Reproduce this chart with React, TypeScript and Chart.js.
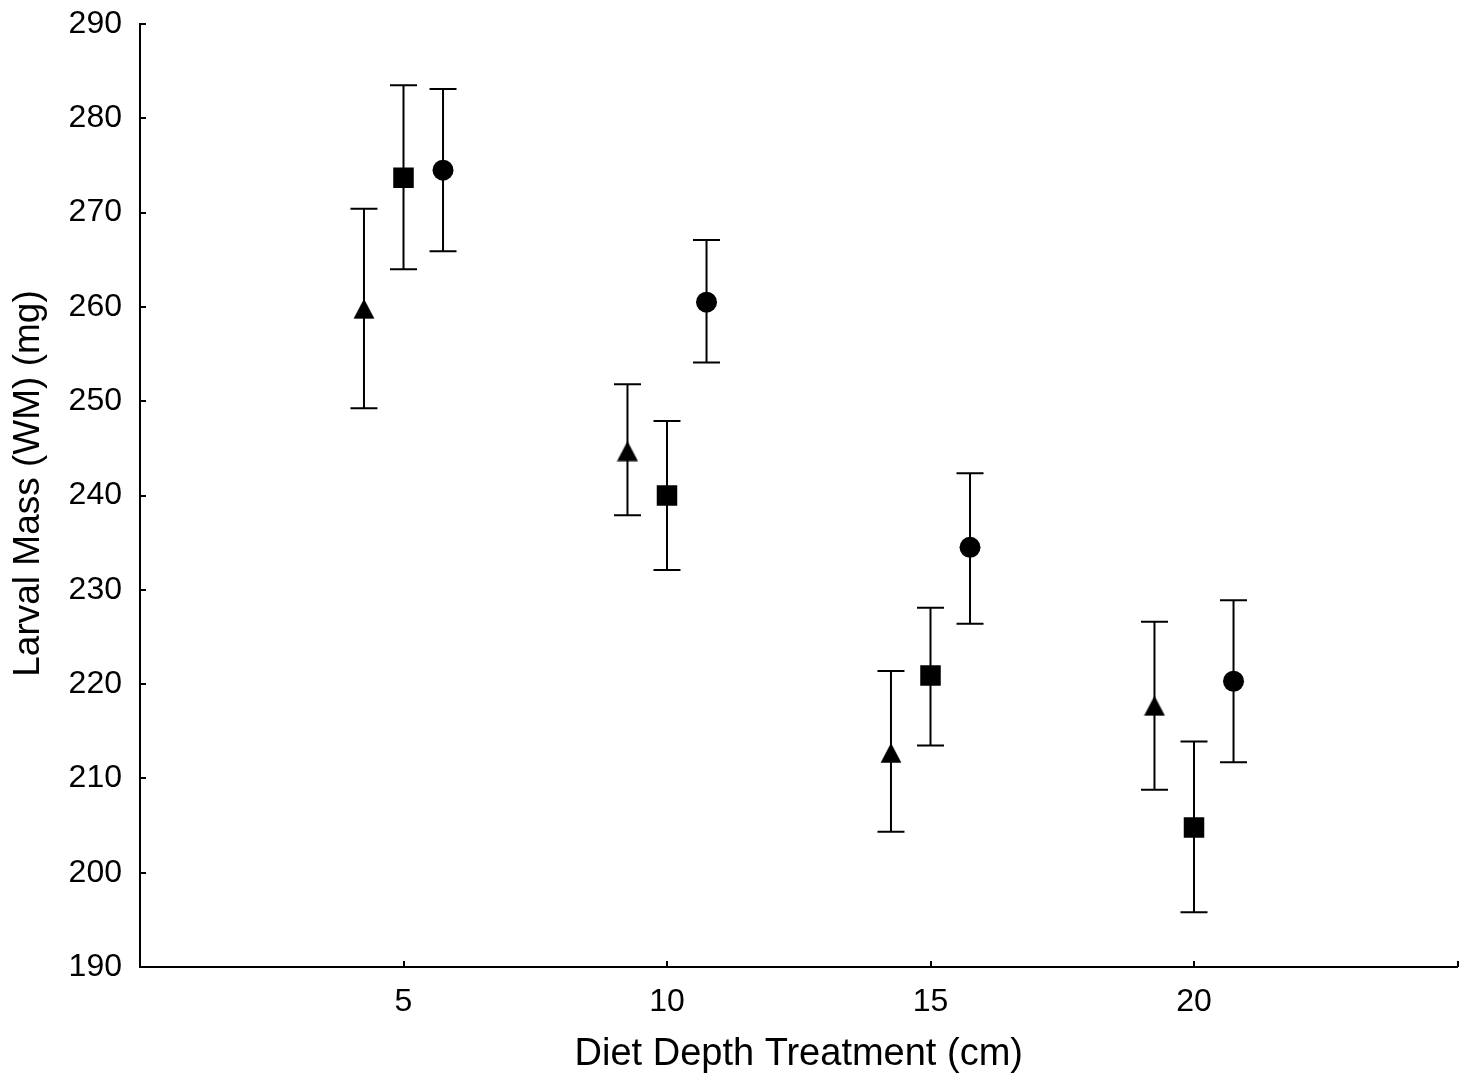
import React, { useEffect, useRef } from "react";
import { Chart, registerables } from "chart.js";

Chart.register(...registerables);

// ---- Data ----
const categories = [5, 10, 15, 20];
const xTickValues = [0, 5, 10, 15, 20, 25];
const yTickValues = [190, 200, 210, 220, 230, 240, 250, 260, 270, 280, 290];

const triangleOffset = -0.75;
const squareOffset = 0;
const circleOffset = 0.75;

const triangleMean = [259.8, 244.7, 212.7, 217.7];
const triangleHigh = [270.4, 251.8, 221.4, 226.6];
const triangleLow = [249.25, 237.9, 204.35, 208.8];

const squareMean = [273.7, 240.0, 220.9, 204.8];
const squareHigh = [283.5, 247.9, 228.1, 213.9];
const squareLow = [264.0, 232.1, 213.5, 195.8];

const circleMean = [274.5, 260.5, 234.5, 220.3];
const circleHigh = [283.1, 267.1, 242.35, 228.9];
const circleLow = [265.9, 254.1, 226.4, 211.7];

const xTitle = "Diet Depth Treatment (cm)";
const yTitle = "Larval Mass (WM) (mg)";

const FONT = "'Liberation Sans', Arial, Helvetica, sans-serif";

function buildPoints(offset: number, mean: number[], high: number[], low: number[]) {
  return categories.map((c, i) => ({ x: c + offset, y: mean[i], yMax: high[i], yMin: low[i] }));
}

function makeTriangle(): HTMLCanvasElement {
  const c = document.createElement("canvas");
  c.width = 22;
  c.height = 21;
  const g = c.getContext("2d")!;
  g.fillStyle = "#000";
  g.beginPath();
  g.moveTo(11, 0.5);
  g.lineTo(21.5, 20.5);
  g.lineTo(0.5, 20.5);
  g.closePath();
  g.fill();
  return c;
}

const errorBarPlugin = {
  id: "errorBars",
  beforeDatasetsDraw(chart: any) {
    const { ctx, scales } = chart;
    const x = scales.x;
    const y = scales.y;
    ctx.save();
    ctx.strokeStyle = "#000";
    ctx.lineWidth = 2;
    const cap = 13.5;
    chart.data.datasets.forEach((ds: any) => {
      ds.data.forEach((p: any) => {
        const px = x.getPixelForValue(p.x);
        const top = y.getPixelForValue(p.yMax);
        const bot = y.getPixelForValue(p.yMin);
        ctx.beginPath();
        ctx.moveTo(px, top);
        ctx.lineTo(px, bot);
        ctx.moveTo(px - cap, top);
        ctx.lineTo(px + cap, top);
        ctx.moveTo(px - cap, bot);
        ctx.lineTo(px + cap, bot);
        ctx.stroke();
      });
    });
    ctx.restore();
  },
};

const inwardTicksPlugin = {
  id: "inwardTicks",
  afterDraw(chart: any) {
    const { ctx, scales } = chart;
    const x = scales.x;
    const y = scales.y;
    const len = 6;
    ctx.save();
    ctx.strokeStyle = "#000";
    ctx.lineWidth = 2;
    ctx.beginPath();
    yTickValues.forEach((v) => {
      const py = Math.round(y.getPixelForValue(v));
      ctx.moveTo(x.left, py);
      ctx.lineTo(x.left + len, py);
    });
    xTickValues.forEach((v) => {
      const px = Math.round(x.getPixelForValue(v));
      ctx.moveTo(px, y.bottom);
      ctx.lineTo(px, y.bottom - len);
    });
    ctx.stroke();

    // y-axis title (slightly above the plot's vertical centre, as in the reference)
    const cy = (chart.chartArea.top + chart.chartArea.bottom) / 2 - 12;
    ctx.translate(29, cy);
    ctx.rotate(-Math.PI / 2);
    ctx.fillStyle = "#000";
    ctx.font = `37px ${FONT}`;
    ctx.textAlign = "center";
    ctx.textBaseline = "middle";
    ctx.fillText(yTitle, 0, 0);
    ctx.restore();
  },
};

export default function App() {
  const canvasRef = useRef<HTMLCanvasElement | null>(null);

  useEffect(() => {
    if (!canvasRef.current) return;
    const tri = makeTriangle();
    const chart = new Chart(canvasRef.current, {
      type: "scatter",
      data: {
        datasets: [
          {
            label: "triangle",
            data: buildPoints(triangleOffset, triangleMean, triangleHigh, triangleLow),
            pointStyle: tri as any,
            backgroundColor: "#000",
            borderColor: "#000",
            borderWidth: 0,
          },
          {
            label: "square",
            data: buildPoints(squareOffset, squareMean, squareHigh, squareLow),
            pointStyle: "rect",
            pointRadius: 14.5,
            backgroundColor: "#000",
            borderColor: "#000",
            borderWidth: 0,
          },
          {
            label: "circle",
            data: buildPoints(circleOffset, circleMean, circleHigh, circleLow),
            pointStyle: "circle",
            pointRadius: 10.5,
            backgroundColor: "#000",
            borderColor: "#000",
            borderWidth: 0,
          },
        ] as any,
      },
      options: {
        animation: false,
        responsive: false,
        maintainAspectRatio: false,
        events: [],
        layout: { padding: { top: 24, right: 12, left: 0, bottom: 0 } },
        plugins: {
          legend: { display: false },
          tooltip: { enabled: false },
        },
        scales: {
          x: {
            type: "linear",
            min: 0,
            max: 25,
            afterFit: (s: any) => {
              s.height = 114;
              s.paddingLeft = 0;
              s.paddingRight = 0;
            },
            afterBuildTicks: (s: any) => {
              s.ticks = xTickValues.map((v) => ({ value: v }));
            },
            ticks: {
              autoSkip: false,
              padding: 16,
              color: "#000",
              maxRotation: 0,
              font: { family: FONT, size: 32 },
              callback: (v: any) => (v === 0 || v === 25 ? "" : String(v)),
            },
            grid: { display: true, drawOnChartArea: false, drawTicks: false, color: "rgba(0,0,0,0)" },
            border: { display: true, color: "#000", width: 2 },
            title: {
              display: true,
              text: xTitle,
              color: "#000",
              font: { family: FONT, size: 38, lineHeight: 1 },
              padding: { top: 0, bottom: 7 },
            },
          },
          y: {
            type: "linear",
            min: 190,
            max: 290,
            afterFit: (s: any) => {
              s.width = 140;
              s.paddingTop = 0;
              s.paddingBottom = 0;
            },
            afterBuildTicks: (s: any) => {
              s.ticks = yTickValues.map((v) => ({ value: v }));
            },
            ticks: {
              autoSkip: false,
              padding: 18,
              color: "#000",
              font: { family: FONT, size: 32 },
            },
            grid: { display: true, drawOnChartArea: false, drawTicks: false, color: "rgba(0,0,0,0)" },
            border: { display: true, color: "#000", width: 2 },
            title: { display: false },
          },
        },
      } as any,
      plugins: [errorBarPlugin, inwardTicksPlugin],
    });
    return () => chart.destroy();
  }, []);

  return (
    <div style={{ position: "fixed", left: 0, top: 0, width: 1472, height: 1081, background: "#fff" }}>
      <canvas ref={canvasRef} width={1472} height={1081} style={{ display: "block" }} />
    </div>
  );
}
